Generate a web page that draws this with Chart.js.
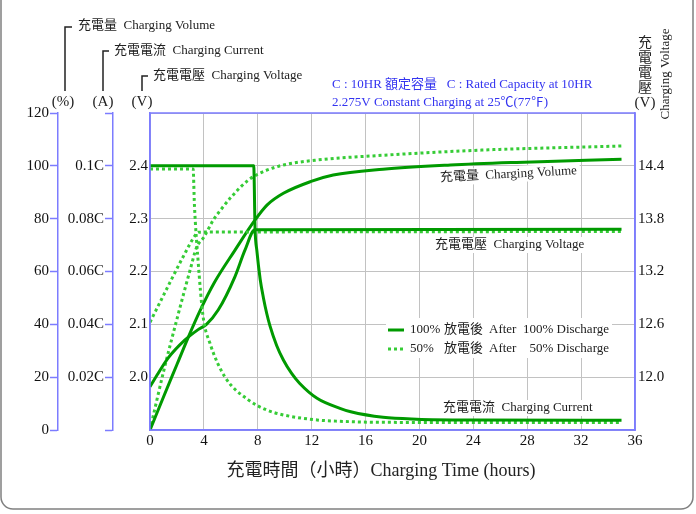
<!DOCTYPE html>
<html lang="zh-Hant">
<head>
<meta charset="UTF-8">
<title>充電特性</title>
<style>
  body { margin: 0; background: #fff; }
  #chart { display: block; }
</style>
</head>
<body>
<canvas id="chart" width="696" height="514"></canvas>
<script src="https://cdn.jsdelivr.net/npm/chart.js"></script>
<script>
// 充電電流 (C), 100% / 50% 放電後
const hrsCur100 = [0, 7.7, 7.8, 7.93, 8.18, 8.42, 8.67, 8.9, 9.4, 9.9, 10.5, 11.1, 12.4, 14.1, 14.9, 17.3, 19.8, 24, 35];
const cur100 = [0.1, 0.1, 0.076, 0.068, 0.057, 0.05, 0.044, 0.0395, 0.032, 0.0265, 0.0215, 0.0177, 0.012, 0.0082, 0.0069, 0.0048, 0.0041, 0.0038, 0.0037];
const hrsCur50 = [0, 3.2, 3.3, 3.57, 3.94, 4.44, 5.55, 7.3, 8.65, 9.9, 12.4, 14.1, 17.3, 35];
const cur50 = [0.0988, 0.0988, 0.085, 0.064, 0.043, 0.033, 0.0202, 0.0114, 0.0076, 0.0057, 0.0038, 0.0033, 0.0029, 0.0028];

// 充電電壓 (V/cell)
const hrsVolt100 = [0, 0.6, 1.34, 2.58, 3.57, 4.19, 5.06, 6.3, 7.04, 7.79, 35];
const volt100 = [1.982, 2.007, 2.036, 2.07, 2.09, 2.1, 2.127, 2.19, 2.24, 2.279, 2.28];
const hrsVolt50 = [0, 1.2, 2.4, 3.4, 3.6, 35];
const volt50 = [2.104, 2.165, 2.225, 2.27, 2.2745, 2.2755];

// 充電量 (%)
const hrsVol100 = [0, 1, 2, 2.83, 3.7, 4.8, 6.3, 7.8, 8.7, 9.9, 11.9, 13.6, 17.3, 22.3, 27.2, 35];
const vol100 = [0, 12.5, 24.8, 35, 45, 56, 68, 79.5, 85.2, 89.6, 94, 96.5, 98.7, 100.3, 101.3, 102.5];
const hrsVol50 = [0, 1, 2, 3, 3.45, 4.0, 4.7, 5.2, 6.05, 7.3, 8.5, 9.9, 12.4, 17.3, 24.8, 35];
const vol50 = [0, 22, 42, 61, 69, 73, 79.5, 83, 88.3, 94.6, 98, 100.3, 102.2, 104, 106, 107.5];

// legend text parts
const legendPct = ['100%', '50%'];
const legendTail = ['100% Discharge', '50% Discharge'];

const solidColor = '#009a00';
const dotColor = '#36cc36';
const axisBlue = '#7c7cff';
const serif = "'Liberation Serif', 'Times New Roman', 'Noto Sans CJK TC', serif";

function pts(xs, ys) {
    return xs.map((x, i) => ({ x: x, y: ys[i] }));
}

function solid(data, axis) {
    return { data: data, yAxisID: axis, borderColor: solidColor, borderWidth: 3, pointRadius: 0,
        cubicInterpolationMode: 'monotone', fill: false };
}
function dotted(data, axis) {
    return { data: data, yAxisID: axis, borderColor: dotColor, borderWidth: 3, borderDash: [3, 3],
        pointRadius: 0, cubicInterpolationMode: 'monotone', fill: false };
}

function labelWithBg(ctx, text, x, y, angle) {
    ctx.save();
    ctx.translate(x, y);
    ctx.rotate(angle * Math.PI / 180);
    ctx.font = '13px ' + serif;
    const w = ctx.measureText(text).width;
    ctx.fillStyle = '#fff';
    ctx.fillRect(-3, -8, w + 6, 16);
    ctx.fillStyle = '#222';
    ctx.textBaseline = 'middle';
    ctx.textAlign = 'left';
    ctx.fillText(text, 0, 0);
    ctx.restore();
}

const extras = {
    id: 'extras',
    afterDraw(chart) {
        const ctx = chart.ctx;
        const a = chart.chartArea;
        ctx.save();

        // plot frame
        ctx.strokeStyle = axisBlue;
        ctx.lineWidth = 1.5;
        ctx.strokeRect(a.left, a.top, a.right - a.left, a.bottom - a.top);

        // curve labels
        labelWithBg(ctx, '充電量  Charging Volume', 440, 178, -3);
        labelWithBg(ctx, '充電電壓  Charging Voltage', 435, 245, 0);
        labelWithBg(ctx, '充電電流  Charging Current', 443, 408, 0);

        // legend
        ctx.fillStyle = '#fff';
        ctx.fillRect(386, 318, 226, 40);
        ctx.lineWidth = 3;
        ctx.strokeStyle = solidColor;
        ctx.beginPath(); ctx.moveTo(388, 330); ctx.lineTo(404, 330); ctx.stroke();
        ctx.strokeStyle = dotColor;
        ctx.setLineDash([3, 3]);
        ctx.beginPath(); ctx.moveTo(388, 349); ctx.lineTo(404, 349); ctx.stroke();
        ctx.setLineDash([]);
        ctx.font = '13px ' + serif;
        ctx.fillStyle = '#222';
        ctx.textBaseline = 'middle';
        [330, 349].forEach((y, i) => {
            ctx.textAlign = 'left';
            ctx.fillText(legendPct[i], 410, y);
            ctx.fillText('放電後', 444, y);
            ctx.fillText('After', 489, y);
            ctx.textAlign = 'right';
            ctx.fillText(legendTail[i], 609, y);
        });

        // axis unit headers with bracket lines
        ctx.strokeStyle = '#222';
        ctx.lineWidth = 1.5;
        [[65, 27, 72], [103, 51, 109], [142, 76, 148]].forEach(b => {
            ctx.beginPath();
            ctx.moveTo(b[0], 91); ctx.lineTo(b[0], b[1]); ctx.lineTo(b[2], b[1]);
            ctx.stroke();
        });
        ctx.textAlign = 'left';
        ctx.font = '13px ' + serif;
        ctx.fillText('充電量  Charging Volume', 78, 26);
        ctx.fillText('充電電流  Charging Current', 114, 51);
        ctx.fillText('充電電壓  Charging Voltage', 153, 76);
        ctx.font = '15px ' + serif;
        ctx.textAlign = 'center';
        ctx.fillText('(%)', 63, 102);
        ctx.fillText('(A)', 103, 102);
        ctx.fillText('(V)', 142, 102);

        // right axis header
        ctx.font = '14px ' + serif;
        ['充', '電', '電', '壓'].forEach((c, i) => ctx.fillText(c, 645, 43 + i * 15));
        ctx.font = '15px ' + serif;
        ctx.fillText('(V)', 645, 103);
        ctx.save();
        ctx.translate(666, 74);
        ctx.rotate(-Math.PI / 2);
        ctx.font = '13px ' + serif;
        ctx.fillText('Charging Voltage', 0, 0);
        ctx.restore();

        // note
        ctx.fillStyle = '#3434f0';
        ctx.textAlign = 'left';
        ctx.font = '13px ' + serif;
        ctx.fillText('C : 10HR 額定容量   C : Rated Capacity at 10HR', 332, 85);
        ctx.fillText('2.275V Constant Charging at 25℃(77℉)', 332, 103);

        // x title
        ctx.fillStyle = '#222';
        ctx.textAlign = 'center';
        ctx.font = '18px ' + serif;
        ctx.fillText('充電時間（小時）Charging Time (hours)', 381, 471);

        // outer rounded frame
        ctx.strokeStyle = '#808080';
        ctx.lineWidth = 1.5;
        ctx.beginPath();
        ctx.moveTo(1, -5);
        ctx.lineTo(1, 497);
        ctx.arcTo(1, 509, 13, 509, 12);
        ctx.lineTo(681, 509);
        ctx.arcTo(693, 509, 693, 497, 12);
        ctx.lineTo(693, -5);
        ctx.stroke();

        ctx.restore();
    }
};

const tickFont = { family: serif, size: 15 };

new Chart(document.getElementById('chart'), {
    type: 'line',
    data: {
        datasets: [
            solid(pts(hrsCur100, cur100), 'yA'),
            dotted(pts(hrsCur50, cur50), 'yA'),
            solid(pts(hrsVolt100, volt100), 'yV'),
            dotted(pts(hrsVolt50, volt50), 'yV'),
            solid(pts(hrsVol100, vol100), 'yP'),
            dotted(pts(hrsVol50, vol50), 'yP')
        ]
    },
    options: {
        responsive: false,
        animation: false,
        devicePixelRatio: 1,
        layout: { padding: { top: 113, left: 0, right: 0, bottom: 0 } },
        plugins: { legend: { display: false }, tooltip: { enabled: false } },
        scales: {
            x: {
                type: 'linear', position: 'bottom', min: 0, max: 36,
                ticks: { stepSize: 4, font: tickFont, color: '#111', padding: 2, maxRotation: 0 },
                grid: { color: '#c2c2c2', drawTicks: false },
                border: { color: axisBlue, width: 1.5 },
                afterFit: s => { s.height = 84; }
            },
            yP: {
                position: 'left', weight: 3, min: 0, max: 120,
                ticks: { stepSize: 20, font: tickFont, color: '#111', padding: 1 },
                grid: { drawOnChartArea: false, tickLength: 8, tickColor: axisBlue, tickWidth: 1.5 },
                border: { color: axisBlue, width: 1.5 },
                afterFit: s => { s.width = 58; }
            },
            yA: {
                position: 'left', weight: 2, min: 0, max: 0.12,
                ticks: {
                    stepSize: 0.02, font: tickFont, color: '#111', padding: 1,
                    callback: v => (v > 0.001 && v < 0.11) ? Number(v.toFixed(2)) + 'C' : ''
                },
                grid: { drawOnChartArea: false, tickLength: 8, tickColor: axisBlue, tickWidth: 1.5 },
                border: { color: axisBlue, width: 1.5 },
                afterFit: s => { s.width = 55; }
            },
            yV: {
                position: 'left', weight: 1, min: 1.9, max: 2.5,
                ticks: {
                    stepSize: 0.1, font: tickFont, color: '#111', padding: 2,
                    callback: v => (v > 1.95 && v < 2.45) ? v.toFixed(1) : ''
                },
                grid: { color: '#c2c2c2', drawTicks: false },
                border: { color: axisBlue, width: 1.5 },
                afterFit: s => { s.width = 37; }
            },
            yR: {
                position: 'right', min: 11.4, max: 15.0,
                ticks: {
                    stepSize: 0.6, font: tickFont, color: '#111', padding: 3,
                    callback: v => (v > 11.7 && v < 14.7) ? v.toFixed(1) : ''
                },
                grid: { drawOnChartArea: false, drawTicks: false },
                border: { color: axisBlue, width: 1.5 },
                afterFit: s => { s.width = 61; }
            }
        }
    },
    plugins: [extras]
});
</script>
</body>
</html>
